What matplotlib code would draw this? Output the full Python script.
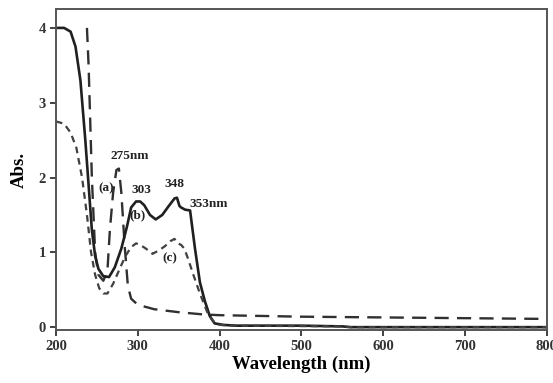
import matplotlib
matplotlib.use('Agg')
import matplotlib.pyplot as plt
import numpy as np

plt.rcParams['font.family'] = ['Liberation Serif', 'DejaVu Serif']
plt.rcParams['font.weight'] = 'bold'

# curve (a): long dashes, band at 275 nm
wl_a = [238, 240, 244, 248, 252, 258, 263, 266, 270, 274, 277, 280, 284, 288,
        292, 300, 320, 350, 380, 400, 500, 600, 700, 800]
abs_a = [4.0, 3.5, 2.0, 1.0, 0.7, 0.62, 0.75, 1.3, 1.8, 2.1, 2.12, 1.8, 1.1, 0.55,
         0.38, 0.3, 0.24, 0.2, 0.17, 0.16, 0.14, 0.13, 0.12, 0.11]

# curve (b): solid, bands at 303, 348, 353 nm
wl_b = [200, 210, 218, 224, 230, 236, 240, 244, 248, 252, 258, 265, 272, 280,
        287, 292, 298, 303, 308, 315, 322, 330, 338, 345, 348, 351, 353, 358,
        364, 370, 376, 382, 388, 394, 405, 420, 500, 550, 560, 800]
abs_b = [4.0, 4.0, 3.95, 3.75, 3.3, 2.5, 1.9, 1.3, 0.95, 0.78, 0.68, 0.67, 0.8, 1.05,
         1.35, 1.6, 1.68, 1.68, 1.63, 1.5, 1.44, 1.5, 1.62, 1.72, 1.73, 1.62, 1.6, 1.57,
         1.56, 1.05, 0.6, 0.35, 0.15, 0.05, 0.03, 0.02, 0.02, 0.01, 0.0, 0.0]

# curve (c): short dashes
wl_c = [200, 210, 218, 225, 232, 238, 243, 248, 253, 258, 263, 270, 278, 285,
        292, 298, 303, 310, 318, 325, 333, 340, 345, 349, 353, 357, 362, 368,
        376, 385, 392, 400, 420, 550, 560, 800]
abs_c = [2.75, 2.72, 2.6, 2.4, 2.0, 1.5, 1.0, 0.7, 0.52, 0.45, 0.45, 0.58, 0.78, 0.95,
         1.07, 1.12, 1.1, 1.05, 0.98, 1.02, 1.08, 1.15, 1.18, 1.12, 1.1, 1.05, 0.9, 0.7,
         0.45, 0.2, 0.08, 0.03, 0.02, 0.01, 0.0, 0.0]

peak_text = ['275nm', '303', '348', '353nm', '(a)', '(b)', '(c)']
peak_x = [290, 304, 345, 387, 261, 300, 339]
peak_y = [2.29, 1.83, 1.92, 1.65, 1.86, 1.49, 0.92]

fig = plt.figure(figsize=(5.53, 3.83), dpi=100)
ax = fig.add_axes([0.101, 0.138, 0.888, 0.838])

ax.plot(wl_a, abs_a, color='#303030', lw=1.7, dashes=(6, 3.5))
ax.plot(wl_b, abs_b, color='#202020', lw=1.9)
ax.plot(wl_c, abs_c, color='#404040', lw=1.6, dashes=(3, 2.2))

for t, x, y in zip(peak_text, peak_x, peak_y):
    ax.text(x, y, t, fontsize=9.5, ha='center', va='center', color='#222222')

ax.set_xlim(200, 800)
ax.set_ylim(-0.04, 4.25)
ax.set_xticks(np.arange(200, 801, 100))
ax.set_yticks([0, 1, 2, 3, 4])
ax.tick_params(labelsize=10.5, width=1.3, length=4, colors='#333333', pad=3)
for s in ax.spines.values():
    s.set_linewidth(1.4)
    s.set_color('#555555')

ax.set_xlabel('Wavelength (nm)', fontsize=13.5, fontweight='bold', labelpad=2)
ax.set_ylabel('Abs.', fontsize=13.5, fontweight='bold', labelpad=8)

fig.savefig('out.png', dpi=100)
